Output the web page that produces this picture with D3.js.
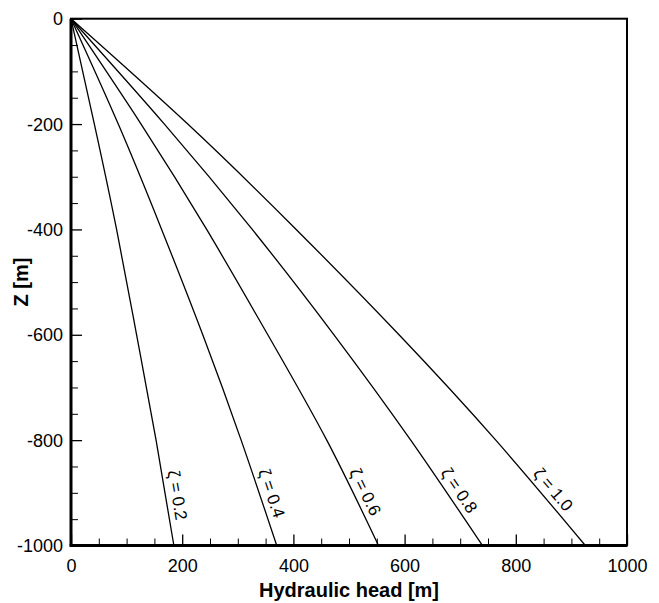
<!DOCTYPE html>
<html>
<head>
<meta charset="utf-8">
<script src="https://cdn.jsdelivr.net/npm/d3@7"></script>
<style>
  html, body { margin: 0; padding: 0; background: #fff; }
  svg { display: block; }
  text { font-family: "Liberation Sans", Arial, Helvetica, sans-serif; fill: #000; }
</style>
</head>
<body>
<svg id="chart" width="659" height="603"></svg>
<script>
// ---- data ----
const zLevels = [0, -200, -400, -600, -800, -1000];
const zetaLabels = ["ζ = 0.2", "ζ = 0.4", "ζ = 0.6", "ζ = 0.8", "ζ = 1.0"];
const head02 = [0, 42, 82, 118, 153, 185];
const head04 = [0, 85, 163, 237, 306, 370];
const head06 = [0, 126, 244, 354, 460, 553];
const head08 = [0, 168, 326, 473, 611, 740];
const head10 = [0, 210, 405, 590, 764, 925];
const seriesHeads = [head02, head04, head06, head08, head10];
const xMajorTicks = [0, 200, 400, 600, 800, 1000];
const yMajorTicks = [0, -200, -400, -600, -800, -1000];
const xMinorTicks = d3.range(50, 1000, 50).filter(v => v % 200 !== 0);
const yMinorTicks = d3.range(-50, -1000, -50).filter(v => v % 200 !== 0);

// ---- layout ----
const W = 659, H = 603;
const margin = { left: 71, right: 32, top: 18.7, bottom: 57.5 };
const iw = W - margin.left - margin.right;
const ih = H - margin.top - margin.bottom;

const svg = d3.select("#chart");
const g = svg.append("g").attr("transform", `translate(${margin.left},${margin.top})`);

const x = d3.scaleLinear().domain([0, 1000]).range([0, iw]);
const y = d3.scaleLinear().domain([-1000, 0]).range([ih, 0]);

// frame
g.append("rect").attr("x", 0).attr("y", 0).attr("width", iw).attr("height", ih)
  .attr("fill", "none").attr("stroke", "#000").attr("stroke-width", 2);

// minor ticks
const xMinor = g.append("g").attr("transform", `translate(0,${ih})`)
  .call(d3.axisBottom(x).tickValues(xMinorTicks).tickSize(-7).tickFormat(""));
const yMinor = g.append("g")
  .call(d3.axisLeft(y).tickValues(yMinorTicks).tickSize(-7).tickFormat(""));

// major ticks
const xAxis = g.append("g").attr("transform", `translate(0,${ih})`)
  .call(d3.axisBottom(x).tickValues(xMajorTicks).tickSize(-11).tickPadding(14).tickFormat(d3.format("d")));
const yAxis = g.append("g")
  .call(d3.axisLeft(y).tickValues(yMajorTicks).tickSize(-11).tickPadding(8).tickFormat(d => d === 0 ? "0" : d3.format("d")(d).replace("−", "-")));

[xMinor, yMinor, xAxis, yAxis].forEach(a => {
  a.select(".domain").remove();
  a.selectAll(".tick line").attr("stroke", "#000").attr("stroke-width", 1.3);
});
[xMinor, yMinor].forEach(a => a.selectAll(".tick line").attr("stroke-width", 1));
[xAxis, yAxis].forEach(a => {
  a.selectAll(".tick text").attr("font-size", 18).attr("fill", "#000")
    .style("font-family", '"Liberation Sans", Arial, Helvetica, sans-serif');
});
yAxis.selectAll(".tick text").attr("dy", "0.34em");

// thick left & bottom axis lines
g.append("line").attr("x1", 0).attr("x2", 0).attr("y1", 0).attr("y2", ih)
  .attr("stroke", "#000").attr("stroke-width", 3);
g.append("line").attr("x1", -1.5).attr("x2", iw).attr("y1", ih).attr("y2", ih)
  .attr("stroke", "#000").attr("stroke-width", 3);

// curves
const line = d3.line().x(d => x(d.h)).y(d => y(d.z)).curve(d3.curveNatural);
seriesHeads.forEach((hs, i) => {
  const pts = hs.map((h, k) => ({ h: h, z: zLevels[k] }));
  g.append("path").datum(pts).attr("d", line)
    .attr("fill", "none").attr("stroke", "#000").attr("stroke-width", 1.3);

  // label along the line near the bottom
  const a = pts[pts.length - 2], b = pts[pts.length - 1];
  const dx = x(b.h) - x(a.h), dy = y(b.z) - y(a.z);
  const len = Math.hypot(dx, dy);
  const ux = dx / len, uy = dy / len;
  const zl = -908;
  const t = (zl - a.z) / (b.z - a.z);
  const px = x(a.h + (b.h - a.h) * t), py = y(zl);
  const off = 12;
  const cx = px + uy * off, cy = py - ux * off;
  const ang = Math.atan2(dy, dx) * 180 / Math.PI;
  g.append("text")
    .attr("transform", `translate(${cx},${cy}) rotate(${ang})`)
    .attr("text-anchor", "middle")
    .attr("dy", "0.35em")
    .attr("font-size", 17)
    .text(zetaLabels[i]);
});

// axis titles
svg.append("text")
  .attr("x", margin.left + iw / 2).attr("y", 597)
  .attr("text-anchor", "middle").attr("font-size", 20).attr("font-weight", "bold")
  .text("Hydraulic head [m]");
svg.append("text")
  .attr("transform", `translate(28,${margin.top + ih / 2}) rotate(-90)`)
  .attr("text-anchor", "middle").attr("font-size", 20).attr("font-weight", "bold")
  .text("Z [m]");
</script>
</body>
</html>
